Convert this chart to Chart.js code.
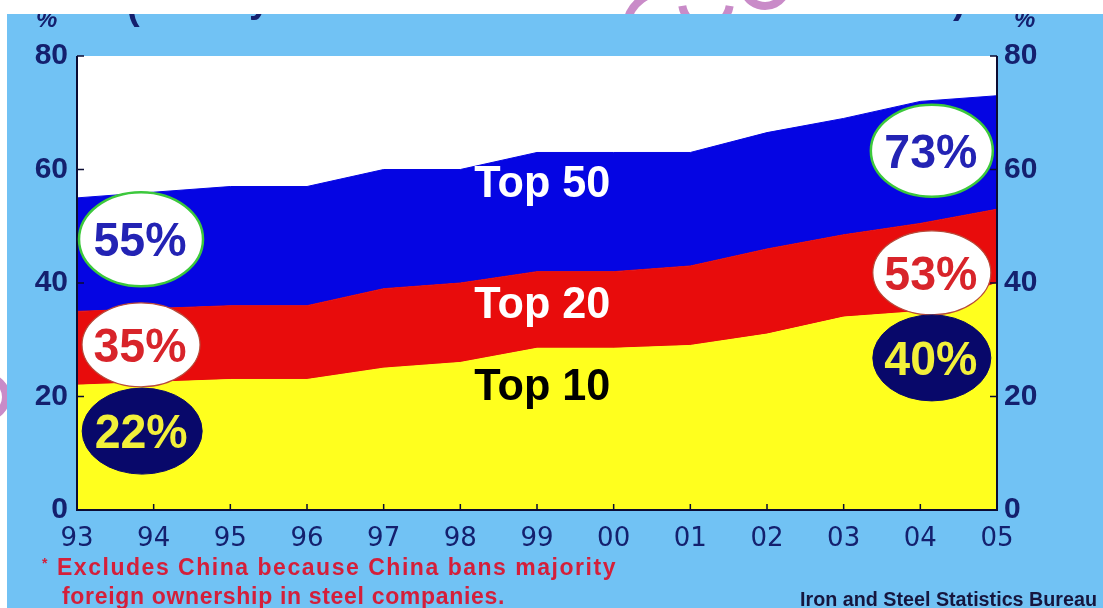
<!DOCTYPE html>
<html><head><meta charset="utf-8">
<style>html,body{margin:0;padding:0;background:#fff;overflow:hidden}canvas{display:block}</style>
<script src="https://cdn.jsdelivr.net/npm/chart.js@4.4.1/dist/chart.umd.min.js"></script>
</head><body>
<canvas id="c" width="1103" height="608"></canvas>
<script>
// ---- data ----
const years = ['93','94','95','96','97','98','99','00','01','02','03','04','05'];
const top10 = [22, 22.5, 23, 23, 25, 26, 28.5, 28.5, 29, 31, 34, 35, 40];
const top20 = [35, 35.5, 36, 36, 39, 40, 42, 42, 43, 46, 48.5, 50.5, 53];
const top50 = [55, 56, 57, 57, 60, 60, 63, 63, 63, 66.5, 69, 72, 73];
const yTicks = [0, 20, 40, 60, 80];
const seriesNames = ['Top 10', 'Top 20', 'Top 50'];
const footnoteMark = '*';
const footnote1 = 'Excludes China because China bans majority';
const footnote2 = 'foreign ownership in steel companies.';
const sourceText = 'Iron and Steel Statistics Bureau';
const unitText = '%';

// ---- styles ----
const COL_BG = '#71c2f4';
const COL_YEL = '#ffff1e';
const COL_RED = '#e80c0c';
const COL_BLU = '#0505e3';
const COL_NAVY = '#08086a';
const COL_AXIS = '#0b0b33';
const COL_TICK = '#14206e';
const COL_NOTE = '#d41f3a';

function drawText(ctx, text, x, y, font, color, align, targetW, spaceFit) {
  ctx.save();
  ctx.font = font; ctx.fillStyle = color; ctx.textBaseline = 'alphabetic'; ctx.textAlign = 'left';
  let w = ctx.measureText(text).width;
  if (spaceFit && targetW && 'letterSpacing' in ctx) {
    const sp = (targetW - w) / text.length;
    ctx.letterSpacing = sp + 'px';
    w = ctx.measureText(text).width;
  }
  const tw = targetW || w;
  const sx = tw / w;
  const left = align === 'center' ? x - tw / 2 : align === 'right' ? x - tw : x;
  ctx.translate(left, y); ctx.scale(sx, 1);
  ctx.fillText(text, 0, 0);
  ctx.restore();
}

const badges = [
  {data: top50, idx: 0,  xi: 0.835, yv: 47.7, rx: 62, ry: 47, fill: '#ffffff', stroke: '#3cc83c', lw: 2.5, color: '#2323b4'},
  {data: top20, idx: 0,  xi: 0.835, yv: 29.1, rx: 59, ry: 42, fill: '#ffffff', stroke: '#b84a3a', lw: 1.2, color: '#d8242a'},
  {data: top10, idx: 0,  xi: 0.85,  yv: 13.9, rx: 60, ry: 43, fill: COL_NAVY, stroke: COL_NAVY, lw: 1, color: '#f2f03a'},
  {data: top50, idx: 12, xi: 11.15, yv: 63.3, rx: 61, ry: 46, fill: '#ffffff', stroke: '#3cc83c', lw: 2.5, color: '#2323b4'},
  {data: top20, idx: 12, xi: 11.15, yv: 41.8, rx: 59, ry: 42, fill: '#ffffff', stroke: '#b84a3a', lw: 1.2, color: '#d8242a'},
  {data: top10, idx: 12, xi: 11.15, yv: 26.8, rx: 59, ry: 43, fill: COL_NAVY, stroke: COL_NAVY, lw: 1, color: '#f2f03a'}
];
const seriesLabels = [
  {name: seriesNames[2], xi: 6.07, yv: 58.0, color: '#ffffff'},
  {name: seriesNames[1], xi: 6.07, yv: 36.6, color: '#ffffff'},
  {name: seriesNames[0], xi: 6.07, yv: 22.2, color: '#000000'}
];

const decor = {
  id: 'decor',
  beforeDraw(chart) {
    const ctx = chart.ctx, a = chart.chartArea;
    ctx.save();
    ctx.fillStyle = '#ffffff'; ctx.fillRect(0, 0, chart.width, chart.height);
    // watermark fragments
    ctx.strokeStyle = '#c98bc8'; ctx.lineWidth = 8;
    ctx.beginPath(); ctx.arc(664, 30, 38, Math.PI * 1.05, Math.PI * 1.6); ctx.stroke();
    ctx.beginPath(); ctx.arc(706, 2, 24, Math.PI * 0.05, Math.PI * 0.95); ctx.stroke();
    ctx.beginPath(); ctx.arc(765, -16, 22, Math.PI * 0.1, Math.PI * 0.9); ctx.stroke();
    ctx.beginPath(); ctx.arc(-14, 397, 20, -Math.PI * 0.5, Math.PI * 0.5); ctx.stroke();
    // slide background
    ctx.fillStyle = COL_BG; ctx.fillRect(7, 14, chart.width - 7, chart.height - 14);
    // clipped header fragments
    ctx.beginPath(); ctx.rect(7, 14, chart.width - 7, chart.height - 14); ctx.clip();
    drawText(ctx, unitText, 36, 27, 'italic bold 24px "Liberation Sans"', COL_TICK, 'left');
    drawText(ctx, unitText, 1014, 27, 'italic bold 24px "Liberation Sans"', COL_TICK, 'left');
    drawText(ctx, '(', 127, 19, 'bold 38px "Liberation Sans"', COL_TICK, 'left');
    drawText(ctx, 'y', 249, 12, 'bold 38px "Liberation Sans"', COL_TICK, 'left');
    drawText(ctx, ')', 953, 13, 'bold 38px "Liberation Sans"', COL_TICK, 'left');
    ctx.restore();
    // plot area
    ctx.fillStyle = '#ffffff'; ctx.fillRect(a.left, a.top, a.right - a.left, a.bottom - a.top);
  },
  afterDatasetsDraw(chart) {
    const ctx = chart.ctx, a = chart.chartArea;
    const xs = chart.scales.x, ys = chart.scales.y;
    ctx.save();
    // axes
    ctx.strokeStyle = COL_AXIS; ctx.lineWidth = 2;
    ctx.beginPath();
    ctx.moveTo(a.left, a.top); ctx.lineTo(a.left, a.bottom); ctx.lineTo(a.right, a.bottom); ctx.lineTo(a.right, a.top);
    ctx.stroke();
    ctx.lineWidth = 1.5;
    ctx.beginPath();
    years.forEach((y, i) => { const px = xs.getPixelForValue(i); ctx.moveTo(px, a.bottom); ctx.lineTo(px, a.bottom - 6); });
    yTicks.forEach(v => { const py = ys.getPixelForValue(v);
      ctx.moveTo(a.left, py); ctx.lineTo(a.left + 7, py);
      ctx.moveTo(a.right, py); ctx.lineTo(a.right - 7, py); });
    ctx.stroke();
    // series labels
    seriesLabels.forEach(l => {
      const px = xs.getPixelForValue(l.xi), py = ys.getPixelForValue(l.yv);
      drawText(ctx, l.name, px, py + 16, 'bold 44px "Liberation Sans"', l.color, 'center', 136);
    });
    // badges
    badges.forEach(b => {
      const cx = xs.getPixelForValue(b.xi), cy = ys.getPixelForValue(b.yv);
      ctx.beginPath(); ctx.ellipse(cx, cy, b.rx, b.ry, 0, 0, Math.PI * 2);
      ctx.fillStyle = b.fill; ctx.fill();
      ctx.strokeStyle = b.stroke; ctx.lineWidth = b.lw; ctx.stroke();
      drawText(ctx, b.data[b.idx] + '%', cx - 1, cy + 17, 'bold 48px "Liberation Sans"', b.color, 'center', 93);
    });
    // footnote + source
    drawText(ctx, footnoteMark, 42, 568, 'bold 14px "Liberation Sans"', COL_NOTE, 'left');
    drawText(ctx, footnote1, 57, 575, 'bold 23px "Liberation Sans"', COL_NOTE, 'left', 560, true);
    drawText(ctx, footnote2, 62, 604, 'bold 23px "Liberation Sans"', COL_NOTE, 'left', 443, true);
    drawText(ctx, sourceText, 800, 606, 'bold 20px "Liberation Sans"', '#16163e', 'left', 297);
    ctx.restore();
  }
};

const yTickOpts = (pad) => ({
  min: 0, max: 80,
  grid: {display: false, drawTicks: false},
  border: {display: false},
  ticks: {stepSize: 20, padding: pad, color: COL_TICK, font: {family: 'Liberation Sans', size: 30, weight: 'bold'}}
});

new Chart(document.getElementById('c'), {
  type: 'line',
  data: {
    labels: years,
    datasets: [
      {label: seriesNames[0], data: top10, fill: 'origin', backgroundColor: COL_YEL, borderColor: COL_YEL, borderWidth: 1, pointRadius: 0, tension: 0},
      {label: seriesNames[1], data: top20, fill: '-1', backgroundColor: COL_RED, borderColor: COL_RED, borderWidth: 1, pointRadius: 0, tension: 0},
      {label: seriesNames[2], data: top50, fill: '-1', backgroundColor: COL_BLU, borderColor: COL_BLU, borderWidth: 1, pointRadius: 0, tension: 0}
    ]
  },
  options: {
    responsive: false, animation: false, devicePixelRatio: 1,
    layout: {padding: {top: 56, left: 0, right: 0, bottom: 0}},
    plugins: {legend: {display: false}, tooltip: {enabled: false}},
    scales: {
      x: {
        offset: false,
        grid: {display: false, drawTicks: false}, border: {display: false},
        ticks: {autoSkip: false, maxRotation: 0, padding: 14, color: COL_TICK, font: {family: 'DejaVu Sans', size: 26}},
        afterFit(s) { s.height = 98; }
      },
      y: Object.assign(yTickOpts(9), {position: 'left', afterFit(s) { s.width = 77; }}),
      y2: Object.assign(yTickOpts(7), {position: 'right', afterFit(s) { s.width = 106; }})
    }
  },
  plugins: [decor]
});
</script>
</body></html>
